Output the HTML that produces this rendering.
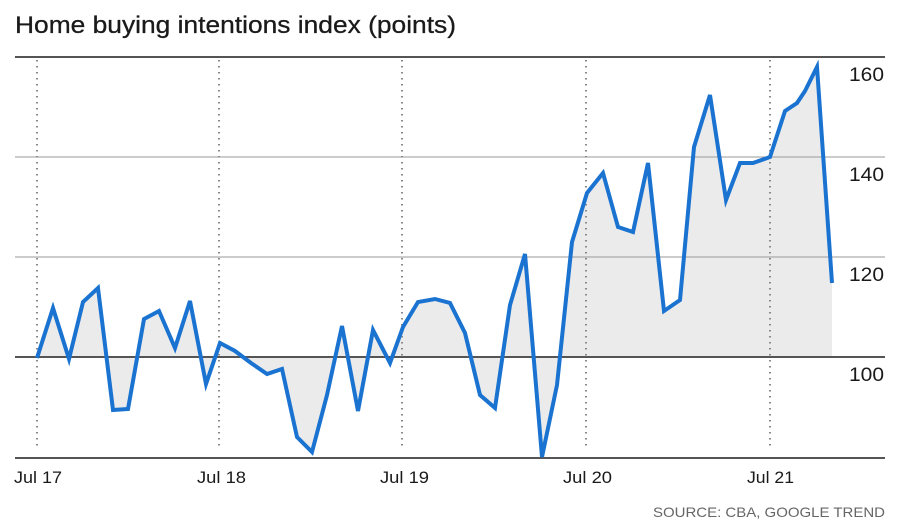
<!DOCTYPE html>
<html><head><meta charset="utf-8"><style>body{margin:0;background:#fff}svg{display:block}</style></head><body>
<svg width="900" height="531" xmlns="http://www.w3.org/2000/svg" font-family="Liberation Sans, sans-serif">
<rect width="900" height="531" fill="#fff"/>
<text x="15" y="33" font-size="24" fill="#1a1a1a" textLength="441" lengthAdjust="spacingAndGlyphs" stroke="#1a1a1a" stroke-width="0.3">Home buying intentions index (points)</text>
<polygon fill="#ebebeb" points="37,357 37,358 53,308 69,359 83,302 98,288 113,410 128,409 144,319 159,311 175,348 190,301 206,384 220,343 235,351 251,363 267,374 282,369 297,437 312,452 327,395 342,326 358,411 373,330 390,363 403,327 418,302 435,299 450,303 465,333 480,395 495,408 510,305 525,254 542,457 557,385 572,242 587,193 603,173 618,227 633,232 648,163 664,311 680,300 694,147 710,95 726,200 740,163 753,163 770,157 785,111 797,103 805,91 817,67 832,283 832,357"/>
<g stroke="#999" stroke-width="1">
<line x1="15" y1="157" x2="885" y2="157"/><line x1="15" y1="257" x2="885" y2="257"/>
</g>
<g stroke="#888" stroke-width="2" stroke-dasharray="1.5,4.5">
<line x1="37" y1="60" x2="37" y2="450"/><line x1="219" y1="60" x2="219" y2="450"/><line x1="402" y1="60" x2="402" y2="450"/><line x1="586" y1="60" x2="586" y2="450"/><line x1="770" y1="60" x2="770" y2="450"/>
</g>
<g stroke="#555" stroke-width="2">
<line x1="15" y1="57" x2="885" y2="57"/><line x1="15" y1="357" x2="885" y2="357"/><line x1="15" y1="458" x2="885" y2="458"/>
</g>
<polyline fill="none" stroke="#1a73d0" stroke-width="4" stroke-linejoin="miter" points="37,358 53,308 69,359 83,302 98,288 113,410 128,409 144,319 159,311 175,348 190,301 206,384 220,343 235,351 251,363 267,374 282,369 297,437 312,452 327,395 342,326 358,411 373,330 390,363 403,327 418,302 435,299 450,303 465,333 480,395 495,408 510,305 525,254 542,457 557,385 572,242 587,193 603,173 618,227 633,232 648,163 664,311 680,300 694,147 710,95 726,200 740,163 753,163 770,157 785,111 797,103 805,91 817,67 832,283"/>
<g font-size="19" fill="#1a1a1a">
<text x="849" y="81" textLength="35" lengthAdjust="spacingAndGlyphs">160</text><text x="849" y="181" textLength="35" lengthAdjust="spacingAndGlyphs">140</text><text x="849" y="281" textLength="35" lengthAdjust="spacingAndGlyphs">120</text><text x="849" y="381" textLength="35" lengthAdjust="spacingAndGlyphs">100</text>
</g>
<g font-size="17" fill="#1a1a1a">
<text x="14" y="483" textLength="48" lengthAdjust="spacingAndGlyphs">Jul 17</text><text x="197" y="483" textLength="49" lengthAdjust="spacingAndGlyphs">Jul 18</text><text x="380" y="483" textLength="49" lengthAdjust="spacingAndGlyphs">Jul 19</text><text x="563" y="483" textLength="49" lengthAdjust="spacingAndGlyphs">Jul 20</text><text x="747" y="483" textLength="47" lengthAdjust="spacingAndGlyphs">Jul 21</text>
</g>
<text x="653" y="517" font-size="14" fill="#666" textLength="232" lengthAdjust="spacingAndGlyphs">SOURCE: CBA, GOOGLE TREND</text>
</svg>
</body></html>
